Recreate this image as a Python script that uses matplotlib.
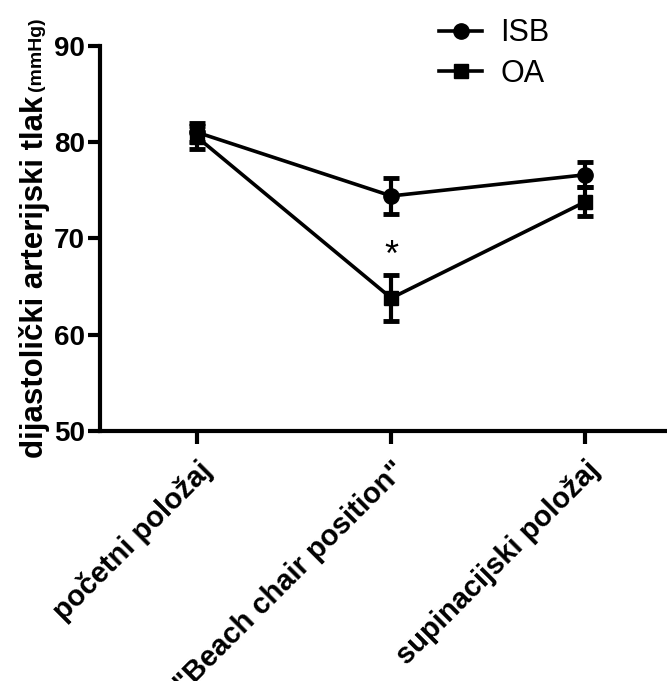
import matplotlib.pyplot as plt
from matplotlib.lines import Line2D
import numpy as np

plt.rcParams["font.family"] = ["Liberation Sans", "DejaVu Sans"]

# data
positions = ["početni položaj", '"Beach chair position"', "supinacijski položaj"]
isb_mean = [81.0, 74.4, 76.6]
isb_err = [1.0, 1.9, 1.3]
oa_mean = [80.5, 63.8, 73.8]
oa_err = [1.2, 2.4, 1.5]

fig = plt.figure(figsize=(6.67, 6.81), dpi=100)
ax = fig.add_axes([0.15, 0.367, 0.85, 0.566])

x = np.arange(len(positions))
ax.errorbar(x, isb_mean, yerr=isb_err, color="black", marker="o", markersize=11,
            linewidth=2.6, elinewidth=3, capsize=6, capthick=3.5)
ax.errorbar(x, oa_mean, yerr=oa_err, color="black", marker="s", markersize=10,
            linewidth=2.6, elinewidth=3, capsize=6, capthick=3.5)

# significance marker
ax.text(1, 68.1, "*", ha="center", va="center", fontsize=26)

ax.set_xlim(-0.5, 2.42)
ax.set_ylim(50, 90)
ax.set_yticks([50, 60, 70, 80, 90])
ax.set_xticks(x)
ax.set_xticklabels(positions, rotation=45, ha="right", va="top",
                   rotation_mode="anchor", fontsize=21, fontweight="bold")
for lab in ax.get_yticklabels():
    lab.set_fontsize(20)
    lab.set_fontweight("bold")

for side in ["top", "right"]:
    ax.spines[side].set_visible(False)
for side in ["left", "bottom"]:
    ax.spines[side].set_linewidth(3)
ax.tick_params(width=3, length=9, direction="out")
ax.tick_params(axis="x", pad=9)
ax.tick_params(axis="y", pad=2)

# y label: bold part plus small unit
fig.text(0.052, 0.594, "dijastolički arterijski tlak", rotation=90, ha="center",
         va="center", fontsize=22.5, fontweight="bold")
fig.text(0.055, 0.921, "(mmHg)", rotation=90, ha="center", va="center",
         fontsize=14, fontweight="bold")

handles = [Line2D([], [], color="black", marker="o", markersize=11, linewidth=2.6),
           Line2D([], [], color="black", marker="s", markersize=10, linewidth=2.6)]
ax.legend(handles, ["ISB", "OA"], loc="upper left", bbox_to_anchor=(0.55, 1.142),
          frameon=False, fontsize=22, handlelength=1.4, handletextpad=0.6,
          labelspacing=0.35)

fig.savefig("out.png", dpi=100)
